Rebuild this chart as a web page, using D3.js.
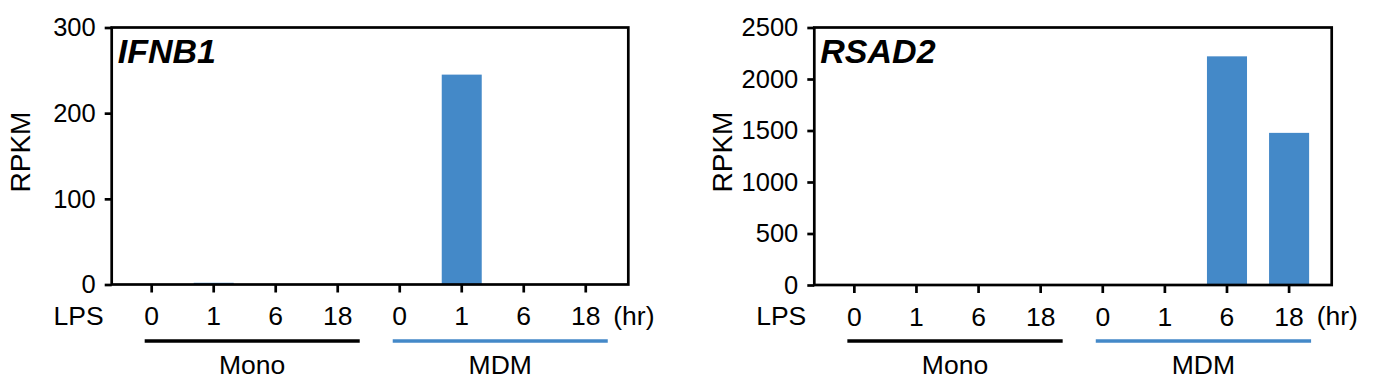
<!DOCTYPE html>
<html>
<head>
<meta charset="utf-8">
<script src="https://cdn.jsdelivr.net/npm/d3@7"></script>
<style>
  html, body { margin: 0; padding: 0; background: #fff; }
  svg text { font-family: "Liberation Sans", Arial, sans-serif; fill: #000; }
</style>
</head>
<body>
<svg id="chart" width="1375" height="387"></svg>
<script>
// ---- data ----
const groups = ["Mono", "MDM"];
const timepoints = ["0", "1", "6", "18"];
const ifnb1Mono = [0, 2, 0, 0];
const ifnb1Mdm = [0, 245, 0, 0];
const rsad2Mono = [0, 0, 8, 0];
const rsad2Mdm = [0, 0, 2220, 1477];
const ifnb1Ticks = [0, 100, 200, 300];
const rsad2Ticks = [0, 500, 1000, 1500, 2000, 2500];
const yLabel = "RPKM";
const xLead = "LPS";
const xUnit = "(hr)";

const barColor = "#4489c8";
const svg = d3.select("#chart");

function drawPanel(o) {
  const g = svg.append("g");
  const cats = [];
  groups.forEach(gr => timepoints.forEach(t => cats.push(gr + "-" + t)));
  const vals = o.mono.concat(o.mdm);
  const data = cats.map((c, i) => ({ key: c, t: timepoints[i % 4], v: vals[i] }));

  const x = d3.scaleBand().domain(cats).range([o.x0, o.x1])
    .paddingInner(0.355).paddingOuter(0.343).align(0.47);
  const y = d3.scaleLinear().domain([0, o.max]).range([o.yb, o.yt]);
  const sw = 2.7;

  // bars
  g.selectAll("rect.bar").data(data).enter().append("rect")
    .attr("class", "bar")
    .attr("x", d => x(d.key))
    .attr("width", x.bandwidth())
    .attr("y", d => y(d.v))
    .attr("height", d => y(0) - y(d.v))
    .attr("fill", barColor);

  // y axis
  const ya = g.append("g").attr("transform", `translate(${o.x0},0)`)
    .call(d3.axisLeft(y).tickValues(o.ticks).tickSize(7).tickPadding(9).tickFormat(d3.format("d")));
  ya.select(".domain").remove();
  ya.selectAll("line").attr("stroke", "#000").attr("stroke-width", sw);
  ya.selectAll("text").attr("font-size", 25.5);

  // x axis
  const xa = g.append("g").attr("transform", `translate(0,${o.yb})`)
    .call(d3.axisBottom(x).tickSize(8).tickPadding(14).tickFormat((d, i) => timepoints[i % 4]));
  xa.select(".domain").remove();
  xa.selectAll("line").attr("stroke", "#000").attr("stroke-width", sw);
  xa.selectAll("text").attr("font-size", 26.5);

  // frame
  g.append("rect").attr("x", o.x0).attr("y", o.yt)
    .attr("width", o.x1 - o.x0).attr("height", o.yb - o.yt)
    .attr("fill", "none").attr("stroke", "#000").attr("stroke-width", sw);

  // gene title
  g.append("text").attr("x", o.x0 + 6).attr("y", o.yt + 35)
    .attr("font-size", 34).attr("font-weight", "bold").attr("font-style", "italic")
    .text(o.title);

  // y label
  g.append("text")
    .attr("transform", `translate(${o.x0 - 82},${152}) rotate(-90)`)
    .attr("text-anchor", "middle").attr("font-size", 28)
    .text(yLabel);

  // LPS and (hr)
  g.append("text").attr("x", o.x0 - 8).attr("y", 325).attr("text-anchor", "end")
    .attr("font-size", 26.5).text(xLead);
  g.append("text").attr("x", o.x1 - 15).attr("y", 325)
    .attr("font-size", 26.5).text(xUnit);

  // group lines and labels
  groups.forEach((gr, gi) => {
    const first = x(gr + "-" + timepoints[0]) + x.bandwidth() / 2;
    const last = x(gr + "-" + timepoints[timepoints.length - 1]) + x.bandwidth() / 2;
    const a = first - 7, b = last + 22;
    g.append("line").attr("x1", a).attr("x2", b).attr("y1", 341).attr("y2", 341)
      .attr("stroke", gi === 0 ? "#000" : barColor).attr("stroke-width", 3.3);
    g.append("text").attr("x", (a + b) / 2).attr("y", 374).attr("text-anchor", "middle")
      .attr("font-size", 26.5).text(gr);
  });
}

drawPanel({ x0: 111.7, x1: 628.3, yt: 27.5, yb: 284.5, max: 300, ticks: ifnb1Ticks,
  mono: ifnb1Mono, mdm: ifnb1Mdm, title: "IFNB1" });
drawPanel({ x0: 814.3, x1: 1331.7, yt: 27.5, yb: 285, max: 2500, ticks: rsad2Ticks,
  mono: rsad2Mono, mdm: rsad2Mdm, title: "RSAD2" });
</script>
</body>
</html>
